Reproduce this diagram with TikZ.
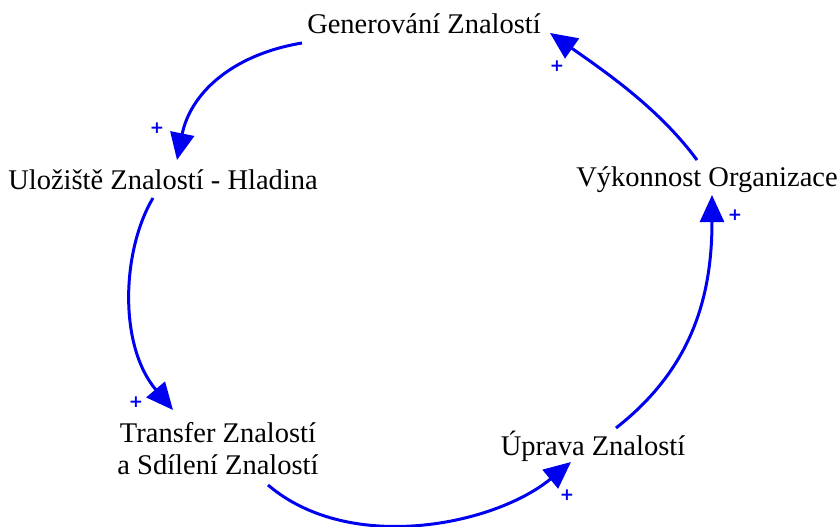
\documentclass[tikz,border=0pt]{standalone}
\usepackage{fontspec}
\setmainfont{Liberation Serif}
\newfontfamily\plusfont{DejaVu Sans}
\usetikzlibrary{arrows.meta}
\definecolor{linkblue}{RGB}{0,0,240}
\begin{document}
\begin{tikzpicture}[x=1pt,y=-1pt,
  var/.style={font=\fontsize{28.5}{32}\selectfont, inner sep=0pt, align=center},
  link/.style={draw=linkblue, line width=3pt, -{Triangle[length=27pt,width=24pt]}},
  pol/.style={text=linkblue, font=\plusfont\fontsize{17}{17}\selectfont\bfseries, inner sep=0pt}]
\useasboundingbox (0,0) rectangle (839,527);
\node[var] (gen) at (424,24) {Generování Znalostí};
\node[var] (ulo) at (163,180) {Uložiště Znalostí - Hladina};
\node[var] (vyk) at (707,180) {Výkonnost Organizace};
\node[var] (tra) at (218,449) {Transfer Znalostí\\a Sdílení Znalostí};
\node[var] (upr) at (593,446) {Úprava Znalostí};
\coordinate (s1) at (302,43);  \coordinate (e1) at (177,160);
\coordinate (s2) at (153,198); \coordinate (e2) at (173,410);
\coordinate (s3) at (268,485); \coordinate (e3) at (571,462);
\coordinate (s4) at (616,428); \coordinate (e4) at (712,195);
\coordinate (s5) at (697,160); \coordinate (e5) at (550,33);
\draw[link] (s1) .. controls (230,55) and (190,95) .. (e1);
\draw[link] (s2) .. controls (122,250) and (118,345) .. (e2);
\draw[link] (s3) .. controls (350,555) and (495,525) .. (e3);
\draw[link] (s4) .. controls (690,370) and (712,300) .. (e4);
\draw[link] (s5) .. controls (660,110) and (610,75) .. (e5);
\node[pol] (p1) at (157,128) {+};
\node[pol] (p2) at (136,402) {+};
\node[pol] (p3) at (567,495) {+};
\node[pol] (p4) at (735,215) {+};
\node[pol] (p5) at (557,66) {+};
\end{tikzpicture}
\end{document}
